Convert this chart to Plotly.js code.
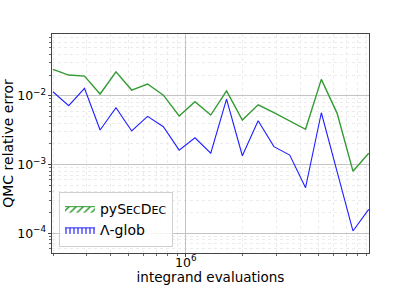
<!DOCTYPE html>
<html>
<head>
<meta charset="utf-8">
<script src="https://cdn.plot.ly/plotly-3.0.1.min.js"></script>
<style>html,body{margin:0;padding:0;background:#fff;}#chart{width:411px;height:285px;}</style>
</head>
<body>
<div id="chart"></div>
<script>
// integrand evaluations (x)
const evaluations = [1.99e5, 2.41e5, 2.92e5, 3.53e5, 4.28e5, 5.18e5, 6.28e5, 7.61e5, 9.22e5,
  1.117e6, 1.353e6, 1.639e6, 1.986e6, 2.406e6, 2.915e6, 3.532e6, 4.279e6, 5.184e6,
  6.281e6, 7.609e6, 9.218e6];
// QMC relative error, pySecDec
const pySecDecErr = [0.0242, 0.0200, 0.0193, 0.0106, 0.0223, 0.0121, 0.0148, 0.0102, 0.00507,
  0.00818, 0.00524, 0.0118, 0.00444, 0.00738, 0.00566, 0.00434, 0.00325, 0.0173,
  0.00555, 0.00080, 0.00146];
// QMC relative error, Lambda-glob
const lambdaGlobErr = [0.01144, 0.00716, 0.01283, 0.00317, 0.00670, 0.00307, 0.00502, 0.00354, 0.00162,
  0.00245, 0.00146, 0.00895, 0.00134, 0.00434, 0.00182, 0.00137, 0.00046, 0.00566,
  0.00078, 0.000108, 0.000223];
const seriesNames = ['pyS<span style="font-size:11px">EC</span>D<span style="font-size:11px">EC</span>', 'Λ-glob'];

const GREEN = '#339b33';
const BLUE = '#1f1fff';
const FONT = 'DejaVu Sans, sans-serif';

const traces = [
  {x: evaluations, y: pySecDecErr, mode: 'lines', type: 'scatter', showlegend: false,
   line: {color: GREEN, width: 1.4}},
  {x: evaluations, y: lambdaGlobErr, mode: 'lines', type: 'scatter', showlegend: false,
   line: {color: BLUE, width: 1.1}},
  {x: [null], y: [null], type: 'scatter', mode: 'lines', fill: 'toself', name: seriesNames[0],
   line: {color: GREEN, width: 1},
   fillcolor: 'rgba(255,255,255,0)',
   fillpattern: {shape: '/', fgcolor: GREEN, bgcolor: 'rgba(255,255,255,0)', size: 5, solidity: 0.3}},
  {x: [null], y: [null], type: 'scatter', mode: 'lines', fill: 'toself', name: seriesNames[1],
   line: {color: BLUE, width: 1},
   fillcolor: 'rgba(255,255,255,0)',
   fillpattern: {shape: '|', fgcolor: BLUE, bgcolor: 'rgba(255,255,255,0)', size: 4, solidity: 0.3}}
];

const axisCommon = {
  type: 'log', dtick: 1, exponentformat: 'power',
  showline: true, mirror: true, linecolor: '#444', linewidth: 1,
  ticks: 'outside', ticklen: 3, tickcolor: '#444', tickwidth: 1,
  showgrid: true, gridcolor: '#c4c4c4', gridwidth: 1,
  zeroline: false, automargin: false,
  tickfont: {family: FONT, size: 10, color: '#000'},
  minor: {dtick: 'D1', showgrid: true, gridcolor: '#ebebeb', griddash: 'dot', gridwidth: 1,
          ticks: 'outside', ticklen: 2, tickcolor: '#666'}
};

const layout = {
  width: 411, height: 285,
  margin: {l: 52, r: 42, t: 34, b: 32},
  paper_bgcolor: '#fff', plot_bgcolor: '#fff',
  font: {family: FONT, color: '#000'},
  xaxis: Object.assign({}, axisCommon, {
    range: [5.294, 6.966],
    ticklabelstandoff: -5,
    title: {text: 'integrand evaluations', font: {family: FONT, size: 13.5, color: '#000'}, standoff: 6}
  }),
  yaxis: Object.assign({}, axisCommon, {
    range: [-4.287, -1.102],
    title: {text: 'QMC relative error', font: {family: FONT, size: 14, color: '#000'}, standoff: 2}
  }),
  legend: {
    x: 0.022, y: 0.027, xanchor: 'left', yanchor: 'bottom',
    bgcolor: 'rgba(255,255,255,0.85)', bordercolor: '#d0d0d0', borderwidth: 1,
    font: {family: FONT, size: 14, color: '#000'},
    itemwidth: 30, tracegroupgap: 0
  },
  showlegend: true
};

Plotly.newPlot('chart', traces, layout, {staticPlot: true, displayModeBar: false});
</script>
</body>
</html>
